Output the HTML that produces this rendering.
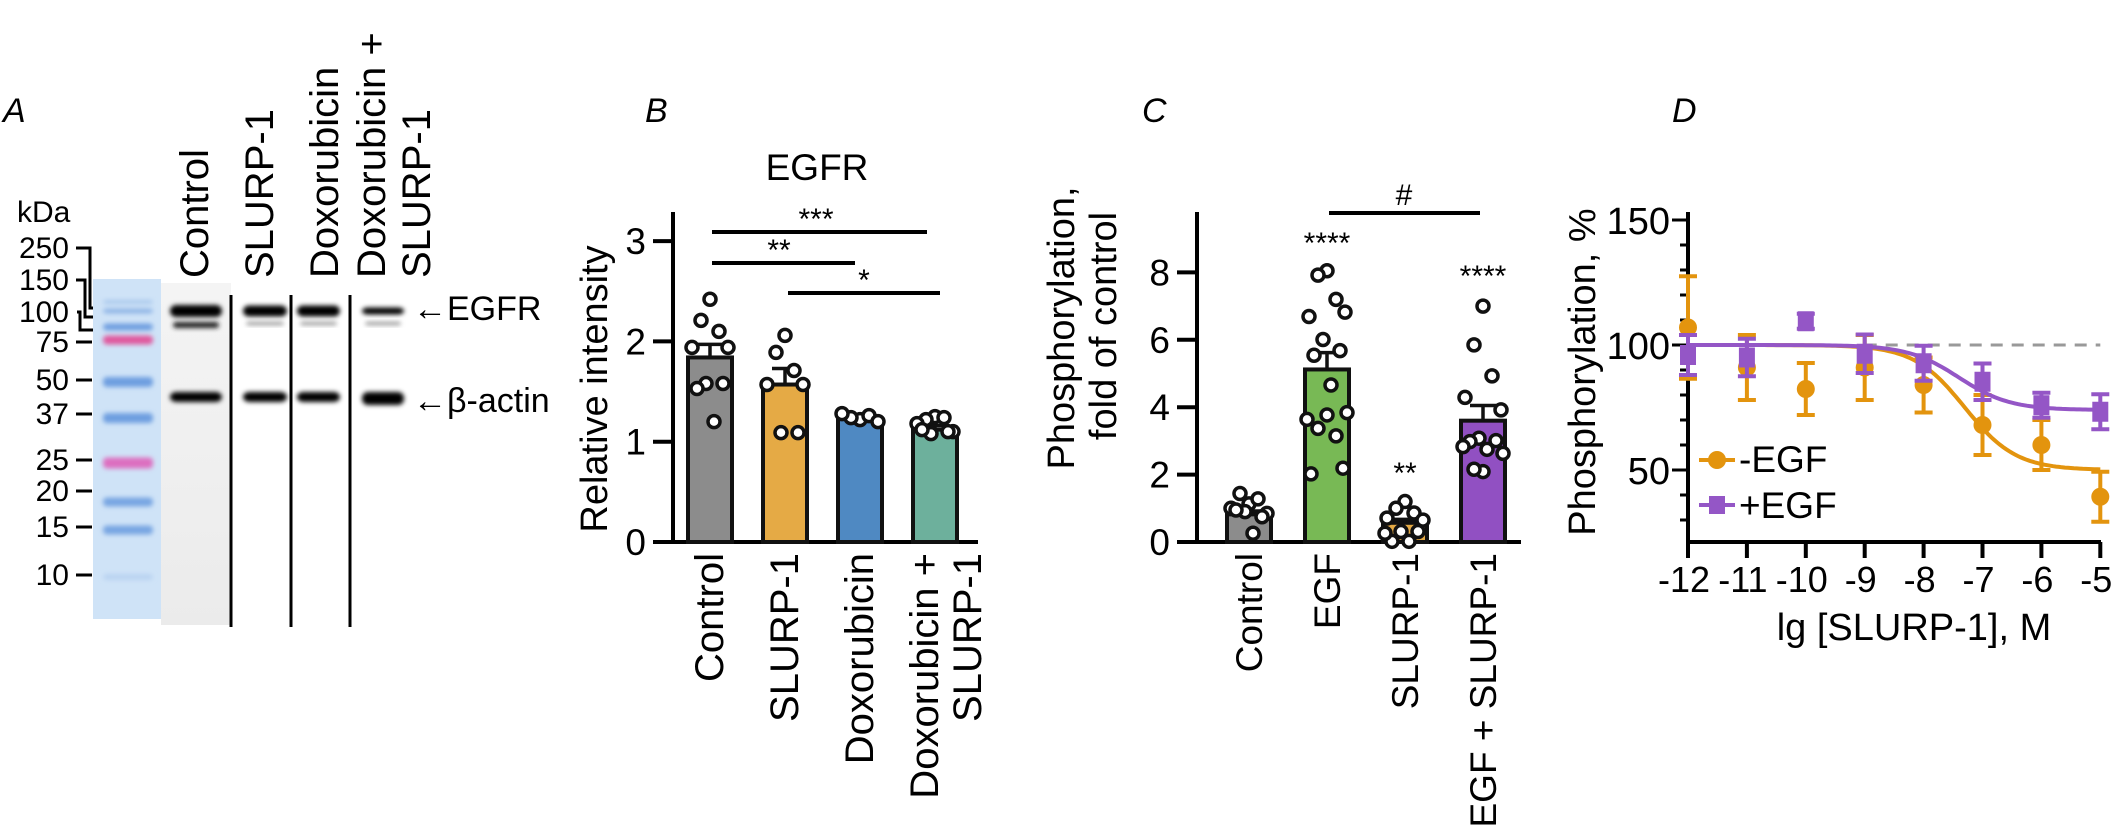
<!DOCTYPE html>
<html><head><meta charset="utf-8"><style>
html,body{margin:0;padding:0;background:#fff;}
svg{display:block;font-family:"Liberation Sans",sans-serif;}
</style></head><body>
<svg id="fig" width="2126" height="837" viewBox="0 0 2126 837" xmlns="http://www.w3.org/2000/svg">
<defs>
<filter id="blur3" x="-20%" y="-100%" width="140%" height="300%"><feGaussianBlur stdDeviation="2.5"/></filter>
<linearGradient id="ctrlbg" x1="0" x2="0" y1="0" y2="1"><stop offset="0" stop-color="#f4f4f4"/><stop offset="1" stop-color="#ebebeb"/></linearGradient>
</defs>
<text x="3" y="122" font-size="34" font-style="italic">A</text>
<text x="645" y="122" font-size="34" font-style="italic">B</text>
<text x="1142" y="122" font-size="34" font-style="italic">C</text>
<text x="1672" y="122" font-size="34" font-style="italic">D</text>

<g>
<text x="17" y="222" font-size="30">kDa</text>
<rect x="93" y="279" width="68" height="340" fill="#cfe3f7"/>
<rect x="161" y="283" width="70" height="342" fill="url(#ctrlbg)"/>
<g id="ladder"></g>
<g id="bands"></g>
<g stroke="#000" stroke-width="3" fill="none">
<polyline points="76,248 90,248 90,308 93,308"/>
<polyline points="76,280 85,280 85,317 93,317"/>
<polyline points="77,312 80,312 80,330 93,330"/>
</g>
<line x1="231" y1="295" x2="231" y2="627" stroke="#000" stroke-width="3"/>
<line x1="291" y1="295" x2="291" y2="627" stroke="#000" stroke-width="3"/>
<line x1="350" y1="295" x2="350" y2="627" stroke="#000" stroke-width="3"/>
<g font-size="40">
<text transform="translate(208,278) rotate(-90)">Control</text>
<text transform="translate(273,278) rotate(-90)">SLURP-1</text>
<text transform="translate(338,278) rotate(-90)">Doxorubicin</text>
<text transform="translate(385,278) rotate(-90)">Doxorubicin +</text>
<text transform="translate(430,278) rotate(-90)">SLURP-1</text>
</g>
<text x="413" y="320" font-size="34">←EGFR</text>
<text x="413" y="412" font-size="34">←β-actin</text>
</g>

<g id="panelB"></g>
<g id="panelC"></g>
<g id="panelD"></g>
</svg>
<script>
const ladderKda = ["250","150","100","75","50","37","25","20","15","10"];
const ladderLabelY = [248,280,312,342,380,414,460,491,527,575];
const catsB = ["Control","SLURP-1","Doxorubicin","Doxorubicin +|SLURP-1"];
const meansB = [1.84,1.57,1.23,1.12];
const semB = [0.13,0.16,0.03,0.04];
const ptsB = [
  [2.42,2.21,2.10,1.94,1.94,1.58,1.58,1.53,1.20],
  [2.06,1.89,1.71,1.57,1.57,1.09,1.09],
  [1.22,1.24,1.26,1.28,1.20],
  [1.25,1.22,1.24,1.18,1.10,1.08,1.10,1.12]
];
const ticksB = [0,1,2,3];
const catsC = ["Control","EGF","SLURP-1","EGF + SLURP-1"];
const meansC = [0.82,5.12,0.57,3.60];
const semC = [0.1,0.5,0.1,0.45];
const ptsC = [
  [1.13,1.44,1.28,1.00,0.85,0.90,0.75,0.95,0.26],
  [8.05,7.92,7.20,6.69,6.82,6.01,5.68,5.54,4.66,3.64,3.84,3.77,3.37,3.15,2.02,2.19],
  [1.20,1.00,0.86,0.71,0.65,0.31,0.31,0.02,0.02,0.26],
  [7.00,5.85,4.93,4.29,3.92,3.08,3.01,2.98,2.75,2.83,2.63,2.09,2.16]
];
const ticksC = [0,2,4,6,8];
const xD = [-12,-11,-10,-9,-8,-7,-6,-5];
const minusEGF = [107,91,82.4,91,84,68,60,39.3];
const minusErr = [20.5,13,10.4,13,11,12,10,10];
const plusEGF = [96,95,109.5,96.5,92.7,85.3,75.9,73.3];
const plusErr = [8,7.5,3,7.7,7,7.3,5,7];
const fitMinus = {top:100,bottom:50,logIC50:-7.3,hill:1.0};
const fitPlus = {top:100,bottom:74,logIC50:-7.4,hill:1.0};
const ticksDy = [50,100,150];
const ticksDx = [-12,-11,-10,-9,-8,-7,-6,-5];

const NS="http://www.w3.org/2000/svg";
function mk(parent,tag,attrs,text){const e=document.createElementNS(NS,tag);for(const k in attrs)e.setAttribute(k,attrs[k]);if(text!==undefined)e.textContent=text;parent.appendChild(e);return e;}

const lad=document.getElementById('ladder');
const ladderBands=[[302,"#a9c8ec",4],[311,"#8fb5e6",5],[327,"#6f9fe0",7],[340,"#e0589e",9],[382,"#6e9fe0",10],[418,"#6e9fe0",10],[463,"#dd6ec0",11],[502,"#78a6e2",9],[530,"#78a6e2",9],[577,"#b9d3f1",6]];
ladderBands.forEach(b=>{
  const r=mk(lad,'rect',{x:103,y:b[0]-b[2]/2,width:50,height:b[2],rx:4,fill:b[1],filter:'url(#blur3)'});
  
  
});
ladderKda.forEach((k,i)=>{
  const t=mk(lad,'text',{x:69,y:ladderLabelY[i]+10,'font-size':30,'text-anchor':'end'},k);
  
  
  if(i>=3){const l=mk(lad,'line',{x1:76,x2:92,y1:ladderLabelY[i],y2:ladderLabelY[i],stroke:'#000','stroke-width':3});
  
  }
});
const bands=document.getElementById('bands');
const laneX=[[170,222],[243,287],[297,340],[362,404]];
const egfrH=[12,11,11,7];
laneX.forEach((l,i)=>{
  const a=mk(bands,'rect',{x:l[0],y:311-egfrH[i]/2,width:l[1]-l[0],height:egfrH[i],rx:6,fill:'#000',filter:'url(#blur3)'});
  
  
  const s=mk(bands,'rect',{x:l[0]+3,y:322,width:l[1]-l[0]-6,height:i==0?6:3,rx:3,fill:i==0?'#222':'#888',filter:'url(#blur3)'});
  
  
  const b=mk(bands,'rect',{x:l[0],y:392,width:l[1]-l[0],height:i==3?13:10,rx:6,fill:'#000',filter:'url(#blur3)'});
  
  
});

function barChart(g,opt){
  const y=v=>opt.y0-opt.k*v;
  let a=mk(g,'line',{x1:opt.ax,x2:opt.ax,y1:212,y2:opt.y0+1.5,stroke:'#000','stroke-width':4});
  
  
  a=mk(g,'line',{x1:opt.ax,x2:opt.axEnd,y1:opt.y0,y2:opt.y0,stroke:'#000','stroke-width':4});
  
  
  opt.ticks.forEach(t=>{
    const l=mk(g,'line',{x1:opt.ax-20,x2:opt.ax,y1:y(t),y2:y(t),stroke:'#000','stroke-width':4});
    
    
    const tx=mk(g,'text',{x:opt.ax-27,y:y(t)+13,'font-size':37,'text-anchor':'end'},String(t));
    
    
  });
  opt.means.forEach((m,i)=>{
    const cx=opt.x0+i*opt.step;
    const r=mk(g,'rect',{x:cx-22,y:y(m),width:44,height:opt.y0-y(m),fill:opt.colors[i],stroke:'#111','stroke-width':4});
    
    
    const e=mk(g,'path',{d:`M${cx},${y(m)} V${y(m+opt.sem[i])} M${cx-13},${y(m+opt.sem[i])} H${cx+13}`,stroke:'#111','stroke-width':3.5,fill:'none'});
    
    
    opt.pts[i].forEach((p,j)=>{
      const off=[0,-9,9,-18,18,-4,13,-13,4,-20,20,0,-9,9,-16,16][j%16];
      const c=mk(g,'circle',{cx:cx+off,cy:y(p),r:6,fill:'#fff',stroke:'#111','stroke-width':3.5});
      
      
    });
    const parts=opt.cats[i].split('|');
    parts.forEach((s,pi)=>{
      const tx=cx+13+(parts.length>1?(pi==0?-10:33):0);
      const t=mk(g,'text',{transform:`translate(${tx},553) rotate(-90)`,'font-size':opt.labelSize,'text-anchor':'end'},s);
      
      
    });
  });
}
const gB=document.getElementById('panelB');
barChart(gB,{cats:catsB,means:meansB,sem:semB,pts:ptsB,ticks:ticksB,colors:['#8c8c8c','#e5aa45','#4f89c2','#6db09c'],ax:673,axEnd:978,y0:542,k:100.3,x0:710,step:75,labelSize:40});
let t=mk(gB,'text',{x:817,y:180,'font-size':37,'text-anchor':'middle'},'EGFR');


t=mk(gB,'text',{transform:'translate(607,389) rotate(-90)','font-size':38,'text-anchor':'middle'},'Relative intensity');


[[712,927,232,816,'***'],[712,855,263,779,'**'],[788,940,293,864,'*']].forEach(s=>{
  const l=mk(gB,'line',{x1:s[0],x2:s[1],y1:s[2],y2:s[2],stroke:'#000','stroke-width':4});
  
  
  const tx=mk(gB,'text',{x:s[3],y:s[2]-3,'font-size':30,'text-anchor':'middle'},s[4]);
  
  
});

const gC=document.getElementById('panelC');
barChart(gC,{cats:catsC,means:meansC,sem:semC,pts:ptsC,ticks:ticksC,colors:['#8c8c8c','#78b955','#e5aa45','#9150c2'],ax:1197,axEnd:1521,y0:542,k:33.7,x0:1249,step:78,labelSize:37});
t=mk(gC,'text',{transform:'translate(1074,328) rotate(-90)','font-size':38,'text-anchor':'middle'},'Phosphorylation,');


t=mk(gC,'text',{transform:'translate(1116,326) rotate(-90)','font-size':38,'text-anchor':'middle'},'fold of control');


let l=mk(gC,'line',{x1:1329,x2:1480,y1:213,y2:213,stroke:'#000','stroke-width':4});


[[1404,205,'#'],[1327,253,'****'],[1405,483,'**'],[1483,286,'****']].forEach(s=>{
  const tx=mk(gC,'text',{x:s[0],y:s[1],'font-size':30,'text-anchor':'middle'},s[2]);
  
  
});

const gD=document.getElementById('panelD');
const X=v=>1688+58.9*(v+12);
const Y=p=>470-2.5*(p-50);
l=mk(gD,'line',{x1:1688,x2:1688,y1:212,y2:544,stroke:'#000','stroke-width':4});


l=mk(gD,'line',{x1:1686,x2:2101,y1:542,y2:542,stroke:'#000','stroke-width':4});


for(let p=30;p<=150;p+=10){
  const mt=mk(gD,'line',{x1:ticksDy.includes(p)?1672:1680,x2:1688,y1:Y(p),y2:Y(p),stroke:'#000','stroke-width':3});
  
  
}
ticksDy.forEach(p=>{
  const tx=mk(gD,'text',{x:1670,y:Y(p)+14,'font-size':38,'text-anchor':'end'},String(p));
  
  
});
ticksDx.forEach(v=>{
  const tk=mk(gD,'line',{x1:X(v),x2:X(v),y1:542,y2:558,stroke:'#000','stroke-width':4});
  
  
  const tx=mk(gD,'text',{x:X(v)-4,y:592,'font-size':36,'text-anchor':'middle'},String(v));
  
  
});
t=mk(gD,'text',{x:1914,y:640,'font-size':38,'text-anchor':'middle'},'lg [SLURP-1], M');


t=mk(gD,'text',{transform:'translate(1595,372) rotate(-90)','font-size':38,'text-anchor':'middle'},'Phosphorylation, %');


l=mk(gD,'line',{x1:X(-9),x2:X(-5),y1:Y(100),y2:Y(100),stroke:'#999','stroke-width':3,'stroke-dasharray':'12,9'});


function curve(f){let d='';for(let i=0;i<=140;i++){const v=-12+7*i/140;const p=f.bottom+(f.top-f.bottom)/(1+Math.pow(10,(v-f.logIC50)*f.hill));d+=(i?'L':'M')+X(v).toFixed(1)+','+Y(p).toFixed(1);}return d;}
function series(vals,errs,color,shape,name){
  const c=mk(gD,'path',{d:curve(name=='minus-egf'?fitMinus:fitPlus),stroke:color,'stroke-width':4,fill:'none'});
  
  
  vals.forEach((v,i)=>{
    const x=X(xD[i]);
    const e=mk(gD,'path',{d:`M${x},${Y(v+errs[i])}V${Y(v-errs[i])}M${x-9},${Y(v+errs[i])}H${x+9}M${x-9},${Y(v-errs[i])}H${x+9}`,stroke:color,'stroke-width':4,fill:'none'});
    
    
    let m;
    if(shape=='circle') m=mk(gD,'circle',{cx:x,cy:Y(v),r:9,fill:color});
    else m=mk(gD,'rect',{x:x-8,y:Y(v)-10,width:16,height:20,fill:color});
    
    
  });
}
series(minusEGF,minusErr,'#e3940e','circle','minus-egf');
series(plusEGF,plusErr,'#9456c6','square','plus-egf');
const lg=mk(gD,'g',{});


let e1=mk(lg,'line',{x1:1699,x2:1735,y1:460,y2:460,stroke:'#e3940e','stroke-width':4});


e1=mk(lg,'circle',{cx:1717,cy:460,r:9,fill:'#e3940e'});


e1=mk(lg,'text',{x:1739,y:472,'font-size':37},'-EGF');


e1=mk(lg,'line',{x1:1699,x2:1735,y1:505,y2:505,stroke:'#9456c6','stroke-width':4});


e1=mk(lg,'rect',{x:1709,y:496,width:16,height:18,fill:'#9456c6'});


e1=mk(lg,'text',{x:1739,y:518,'font-size':37},'+EGF');


</script>
</body></html>
